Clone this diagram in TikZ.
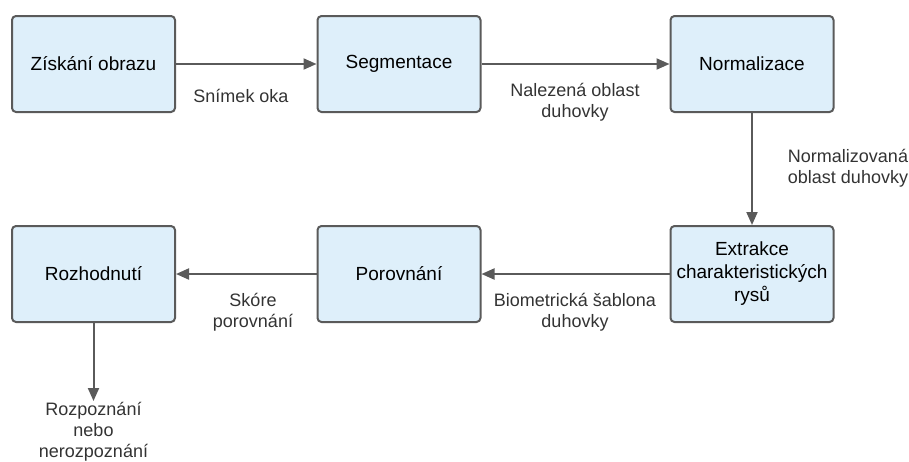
\documentclass[tikz,border=0pt]{standalone}
\usepackage{fontspec}
\setmainfont{Liberation Sans}
\usetikzlibrary{arrows.meta}
\definecolor{boxfill}{HTML}{DEEFFA}
\definecolor{lineclr}{HTML}{5A5A5A}
\definecolor{labelclr}{HTML}{333333}
\tikzset{
  stagebox/.style={draw=lineclr, line width=2pt, fill=boxfill, rounded corners=4pt,
    minimum width=163pt, minimum height=96pt, align=center, inner sep=2pt,
    font=\fontsize{19}{23}\selectfont, text=black},
  flow/.style={draw=lineclr, line width=2pt, -{Triangle[length=13pt,width=11pt]}},
  note/.style={align=center, font=\fontsize{18}{21}\selectfont, text=labelclr, inner sep=0pt}
}
\begin{document}
\begin{tikzpicture}[x=1pt,y=-1pt]
\useasboundingbox (0,0) rectangle (909,461);
\node[stagebox] (ziskani) at (93.5,64) {Získání obrazu};
\node[stagebox] (segm) at (399,64) {Segmentace};
\node[stagebox] (norm) at (752,64) {Normalizace};
\node[stagebox] (extr) at (752,274) {Extrakce\\charakteristických\\rysů};
\node[stagebox] (porov) at (399,274) {Porovnání};
\node[stagebox] (rozh) at (93.5,274) {Rozhodnutí};
\coordinate (konec) at (93.5,401);

\draw[flow] (ziskani) -- (segm);
\draw[flow] (segm) -- (norm);
\draw[flow] (norm) -- (extr);
\draw[flow] (extr) -- (porov);
\draw[flow] (porov) -- (rozh);
\draw[flow] (rozh) -- (konec);

\node[note] (l1) at (241,96) {Snímek oka};
\node[note] (l2) at (575,102) {Nalezená oblast\\duhovky};
\node[note] (l3) at (848,168) {Normalizovaná\\oblast duhovky};
\node[note] (l4) at (575,312) {Biometrická šablona\\duhovky};
\node[note] (l5) at (253,312) {Skóre\\porovnání};
\node[note, anchor=north] (l6) at (93.5,402) {Rozpoznání\\nebo\\nerozpoznání};
\end{tikzpicture}
\end{document}
